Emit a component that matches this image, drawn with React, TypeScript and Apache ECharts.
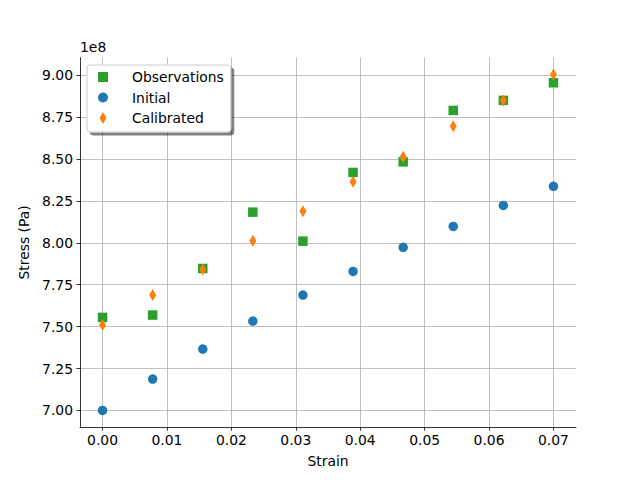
import React, { useEffect, useRef } from "react";
import * as echarts from "echarts";

// Strain values (x)
const strain = [0, 0.00778, 0.01556, 0.02333, 0.03111, 0.03889, 0.04667, 0.05444, 0.06222, 0.07];
// Stress values in units of 1e8 Pa
const observations = [7.555, 7.569, 7.847, 8.183, 8.010, 8.420, 8.483, 8.790, 8.850, 8.955];
const initial = [7.000, 7.187, 7.366, 7.533, 7.688, 7.829, 7.973, 8.098, 8.223, 8.337];
const calibrated = [7.509, 7.688, 7.841, 8.012, 8.189, 8.364, 8.513, 8.696, 8.850, 9.005];

const xTicks = [0, 0.01, 0.02, 0.03, 0.04, 0.05, 0.06, 0.07];
const yTicks = [7.0, 7.25, 7.5, 7.75, 8.0, 8.25, 8.5, 8.75, 9.0];

const FONT = "DejaVu Sans";
const FS = 13.9;

const zip = (xs: number[], ys: number[]) => xs.map((x, i) => [x, ys[i]]);

export default function App() {
  const ref = useRef<HTMLDivElement>(null);
  useEffect(() => {
    if (!ref.current) return;
    const chart = echarts.init(ref.current, undefined, { renderer: "svg" });
    const axisCommon = {
      axisLine: { show: true, onZero: false, lineStyle: { color: "#000", width: 0.8 } },
      axisTick: { show: true, length: 3.5, lineStyle: { color: "#000", width: 0.8 } },
      splitLine: { show: true, lineStyle: { color: "#b0b0b0", width: 0.8 } },
      nameTextStyle: { fontFamily: FONT, fontSize: FS, color: "#000" },
    };
    chart.setOption({
      animation: false,
      backgroundColor: "#fff",
      textStyle: { fontFamily: FONT },
      grid: { left: 80, right: 64, top: 57.6, bottom: 52.8, containLabel: false },
      xAxis: {
        type: "value",
        min: -0.0035,
        max: 0.0735,
        name: "Strain",
        nameLocation: "middle",
        nameGap: 27,
        ...axisCommon,
        axisTick: { ...axisCommon.axisTick, customValues: xTicks },
        axisLabel: {
          customValues: xTicks,
          margin: 6,
          fontFamily: FONT,
          fontSize: FS,
          color: "#000",
          formatter: (v: number) => v.toFixed(2),
        },
      },
      yAxis: {
        type: "value",
        min: 6.89975,
        max: 9.10525,
        name: "Stress (Pa)",
        nameLocation: "middle",
        nameGap: 47,
        ...axisCommon,
        axisTick: { ...axisCommon.axisTick, customValues: yTicks },
        axisLabel: {
          customValues: yTicks,
          margin: 7,
          fontFamily: FONT,
          fontSize: FS,
          color: "#000",
          formatter: (v: number) => v.toFixed(2),
        },
      },
      legend: {
        orient: "vertical",
        left: 87,
        top: 65,
        padding: [5, 7, 7, 11],
        itemWidth: 10,
        itemHeight: 12,
        itemGap: 6.5,
        backgroundColor: "#fff",
        borderColor: "#cccccc",
        borderWidth: 1,
        borderRadius: 3,
        shadowColor: "rgba(0,0,0,0.5)",
        shadowOffsetX: 3,
        shadowOffsetY: 3,
        shadowBlur: 0,
        textStyle: { fontFamily: FONT, fontSize: FS, color: "#000", padding: [0, 0, 0, 19] },
        data: [
          { name: "Observations", icon: "path://M0,0H10V10H0Z" },
          { name: "Initial", icon: "circle" },
          { name: "Calibrated", icon: "path://M3.5,0L7,6L3.5,12L0,6Z" },
        ],
      },
      graphic: [
        {
          type: "text",
          left: 80,
          top: 40,
          style: { text: "1e8", fontFamily: FONT, fontSize: FS, fill: "#000" },
        },
      ],
      series: [
        {
          name: "Observations",
          type: "scatter",
          symbol: "rect",
          symbolSize: 9.5,
          itemStyle: { color: "#2ca02c", opacity: 1 },
          data: zip(strain, observations),
        },
        {
          name: "Initial",
          type: "scatter",
          symbol: "circle",
          symbolSize: 9.5,
          itemStyle: { color: "#1f77b4", opacity: 1 },
          data: zip(strain, initial),
        },
        {
          name: "Calibrated",
          type: "scatter",
          symbol: "diamond",
          symbolSize: [7, 12],
          itemStyle: { color: "#ff7f0e", opacity: 1 },
          data: zip(strain, calibrated),
        },
      ],
    });
    return () => chart.dispose();
  }, []);
  return <div ref={ref} style={{ width: 640, height: 480, position: "fixed", left: 0, top: 0 }} />;
}
